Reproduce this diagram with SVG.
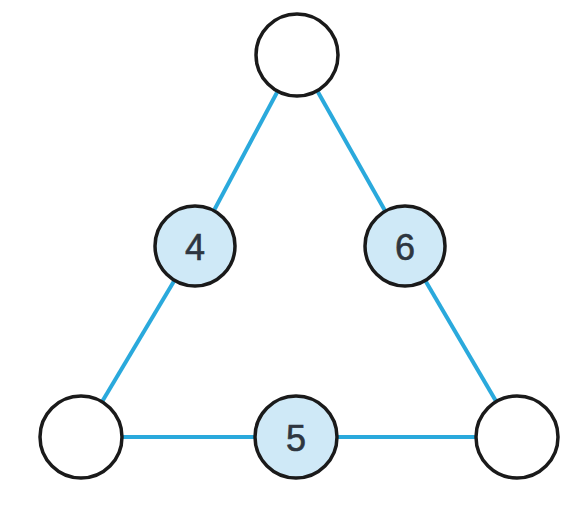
<svg xmlns="http://www.w3.org/2000/svg" width="586" height="512" viewBox="0 0 586 512">
<style>
.edge{stroke:#2aa9dc;stroke-width:4;fill:none}
.c{stroke:#1a1a1a;stroke-width:3.5;fill:#fff}
.n{stroke:#1a1a1a;stroke-width:3.5;fill:#cfe9f7}
.t{font-family:"Liberation Sans",Arial,sans-serif;font-size:36px;fill:#2e3640;stroke:#2e3640;stroke-width:0.6;text-anchor:middle;dominant-baseline:central}
</style>
<rect width="586" height="512" fill="#fff"/>
<g id="connectors">
<line class="edge" x1="297" y1="55" x2="195" y2="246"/>
<line class="edge" x1="195" y1="246" x2="81" y2="437"/>
<line class="edge" x1="297" y1="55" x2="405" y2="246"/>
<line class="edge" x1="405" y1="246" x2="517" y2="437"/>
<line class="edge" x1="81" y1="437" x2="517" y2="437"/>
</g>
<g id="top"><circle class="c" cx="297" cy="55" r="41"/></g>
<g id="n4"><circle class="n" cx="195" cy="246" r="40"/><text class="t" x="195" y="247">4</text></g>
<g id="n6"><circle class="n" cx="405" cy="246" r="40"/><text class="t" x="405" y="247">6</text></g>
<g id="bl"><circle class="c" cx="81" cy="437" r="41"/></g>
<g id="n5"><circle class="n" cx="296" cy="437" r="41"/><text class="t" x="296" y="438">5</text></g>
<g id="br"><circle class="c" cx="517" cy="437" r="41"/></g>
</svg>
